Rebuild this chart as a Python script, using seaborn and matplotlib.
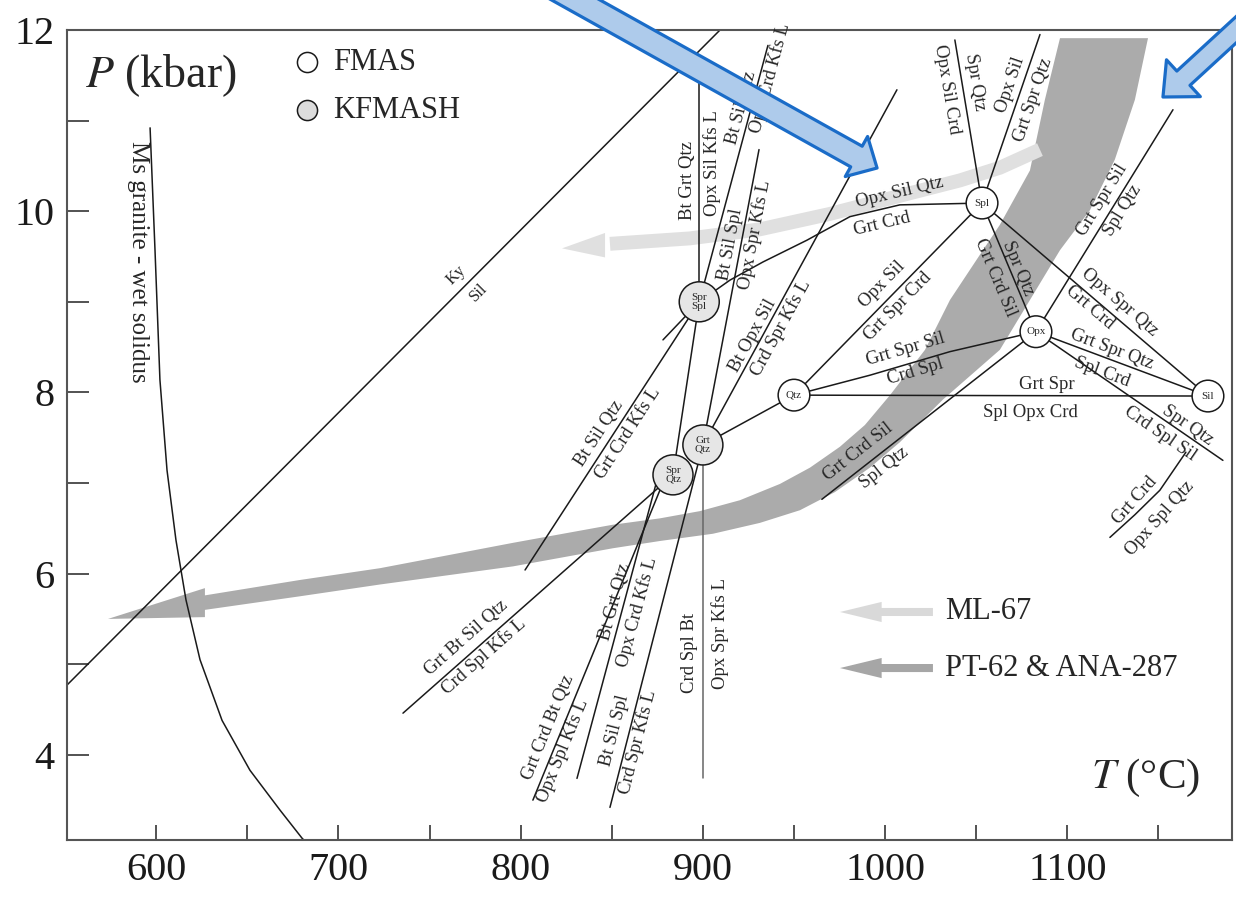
import numpy as np
import matplotlib
matplotlib.use("Agg")
import matplotlib.pyplot as plt
import seaborn as sns

# invariant points, T (°C) / P (kbar)
inv_T = [898.0, 883.6, 900.0, 950.0, 1053.2, 1082.8, 1177.2]
inv_P = [9.00, 7.09, 7.42, 7.97, 10.09, 8.67, 7.96]
inv_lab = ["Spr\nSpl", "Spr\nQtz", "Grt\nQtz", "Qtz", "Spl", "Opx", "Sil"]
inv_sys = ["KFMASH"] * 3 + ["FMAS"] * 4

# straight KFMASH reactions (T0, P0, T1, P1)
kfmash_lines = [
    (898.0, 9.00, 898.0, 11.64),
    (898.0, 9.00, 802.4, 6.04),
    (898.0, 9.00, 935.7, 11.83),
    (900.0, 7.42, 930.8, 10.68),
    (900.0, 7.42, 1006.5, 11.34),
    (898.0, 9.00, 883.6, 7.09),
    (883.6, 7.09, 735.4, 4.46),
    (876.4, 6.92, 806.7, 3.50),
    (874.8, 7.03, 830.9, 3.74),
    (900.0, 7.42, 849.0, 3.42),
    (900.0, 7.42, 900.0, 3.74),
    (900.0, 7.42, 950.0, 7.97),
]
# straight FMAS reactions
fmas_lines = [
    (950.0, 7.97, 1053.2, 10.09),
    (950.0, 7.97, 1177.2, 7.96),
    (1053.2, 10.09, 1038.3, 11.89),
    (1053.2, 10.09, 1085.0, 11.95),
    (1053.2, 10.09, 1082.8, 8.67),
    (1053.2, 10.09, 1177.2, 7.96),
    (1082.8, 8.67, 1177.2, 7.96),
    (1082.8, 8.67, 1185.4, 7.25),
    (1082.8, 8.67, 965.3, 6.82),
    (1082.8, 8.67, 1158.0, 11.12),
]
kysil = (551.0, 4.77, 909.4, 12.0)

# curved reactions
grtcrd_T = [1053.2, 1008.1, 980.7, 957.1, 933.0, 914.9, 898.0, 878.1]
grtcrd_P = [10.09, 10.07, 9.94, 9.68, 9.44, 9.24, 9.00, 8.58]
df_T = [950.0, 991.7, 1035.6, 1082.8]
df_P = [7.97, 8.19, 8.45, 8.67]
gc_T = [1165.1, 1150.8, 1137.1, 1123.4]
gc_P = [7.34, 6.92, 6.65, 6.40]
sol_T = [596.6, 599.3, 602.0, 605.9, 610.8, 616.3, 624.0, 636.1, 651.4, 667.9, 680.0, 684.0]
sol_P = [10.92, 9.57, 8.14, 7.14, 6.37, 5.71, 5.05, 4.38, 3.83, 3.39, 3.08, 3.0]

# P-T paths (edges of the dark band, centre of the light one)
band_up_T = [1096.0, 1087.7, 1079.5, 1063.0, 1053.7, 1035.6, 1021.9, 1002.7, 988.9, 975.2, 958.8, 942.3, 920.3, 898.4, 876.4, 850.6, 795.8, 722.8, 678.9, 626.7]
band_up_P = [11.91, 11.23, 10.45, 9.85, 9.57, 9.02, 8.47, 7.97, 7.64, 7.40, 7.17, 6.99, 6.81, 6.69, 6.61, 6.54, 6.34, 6.06, 5.93, 5.76]
band_lo_T = [1144.3, 1137.1, 1126.1, 1112.4, 1096.0, 1079.5, 1063.0, 1031.7, 1008.1, 991.7, 972.5, 953.3, 931.3, 905.5, 876.4, 850.6, 795.8, 722.8, 678.9, 626.7]
band_lo_P = [11.91, 11.23, 10.57, 10.01, 9.57, 9.02, 8.47, 7.92, 7.45, 7.17, 6.90, 6.70, 6.56, 6.44, 6.36, 6.28, 6.08, 5.88, 5.75, 5.60]
band_head_T = [626.7, 573.5, 626.7]
band_head_P = [5.84, 5.50, 5.52]
ml_T = [1085.0, 1063.0, 1041.1, 1008.1, 969.7, 931.3, 892.9, 849.0]
ml_P = [10.68, 10.48, 10.34, 10.17, 9.97, 9.80, 9.70, 9.64]
ml_head_T = [846.3, 822.7, 846.3]
ml_head_P = [9.76, 9.59, 9.49]

# reaction labels: text, T, P, line index
kfmash_labels = [
    ("Bt Grt Qtz", 891.3, 10.34, 0), ("Opx Sil Kfs L", 905.0, 10.53, 0),
    ("Bt Sil Qtz", 843.0, 7.55, 1), ("Grt Crd Kfs L", 858.9, 7.55, 1),
    ("Bt Sil Qtz", 920.9, 11.14, 2), ("Opx Crd Kfs L", 936.8, 11.47, 2),
    ("Bt Sil Spl", 914.9, 9.63, 3), ("Opx Spr Kfs L", 928.6, 9.74, 3),
    ("Bt Opx Sil", 927.5, 8.63, 4), ("Crd Spr Kfs L", 942.8, 8.71, 4),
    ("Grt Bt Sil Qtz", 770.0, 5.29, 6), ("Crd Spl Kfs L", 779.8, 5.09, 6),
    ("Grt Crd Bt Qtz", 815.0, 4.30, 7), ("Opx Spl Kfs L", 823.2, 4.05, 7),
    ("Bt Grt Qtz", 851.7, 5.69, 8), ("Opx Crd Kfs L", 863.8, 5.58, 8),
    ("Bt Sil Spl", 851.7, 4.27, 9), ("Crd Spr Kfs L", 864.4, 4.14, 9),
    ("Crd Spl Bt", 892.9, 5.13, 10), ("Opx Spr Kfs L", 909.4, 5.34, 10),
]
fmas_labels = [
    ("Opx Sil", 998.3, 9.19, 0), ("Grt Spr Crd", 1007.0, 8.95, 0),
    ("Grt Spr", 1088.8, 8.09, 1), ("Spl Opx Crd", 1079.5, 7.78, 1),
    ("Opx Sil Crd", 1034.0, 11.34, 2), ("Spr Qtz", 1049.3, 11.43, 2),
    ("Opx Sil", 1068.5, 11.39, 3), ("Grt Spr Qtz", 1081.1, 11.23, 3),
    ("Grt Crd Sil", 1060.3, 9.27, 4), ("Spr Qtz", 1072.9, 9.37, 4),
    ("Opx Spr Qtz", 1128.9, 8.99, 5), ("Grt Crd", 1112.4, 8.94, 5),
    ("Grt Spr Qtz", 1124.5, 8.48, 6), ("Spl Crd", 1119.0, 8.22, 6),
    ("Spr Qtz", 1166.2, 7.64, 7), ("Crd Spl Sil", 1150.8, 7.55, 7),
    ("Grt Crd Sil", 985.1, 7.34, 8), ("Spl Qtz", 999.4, 7.17, 8),
    ("Grt Spr Sil", 1119.0, 10.12, 9), ("Spl Qtz", 1130.5, 10.01, 9),
]

sns.set_theme(style="ticks")
plt.rcParams["font.family"] = ["Liberation Serif", "DejaVu Serif"]
plt.rcParams["mathtext.fontset"] = "stix"

fig = plt.figure(figsize=(12.36, 8.99), dpi=100)
ax = fig.add_axes([67 / 1236, 59 / 899, 1165 / 1236, 810 / 899])
ax.set_xlim(551, 1190.4)
ax.set_ylim(3.06, 12)


def angle(t0, p0, t1, p1):
    (x0, y0), (x1, y1) = ax.transData.transform([(t0, p0), (t1, p1)])
    a = np.degrees(np.arctan2(y1 - y0, x1 - x0))
    if a > 90:
        a -= 180
    if a <= -90:
        a += 180
    return a


def tag(text, t, p, rot, fs=13.5):
    ax.text(t, p, text, rotation=rot, rotation_mode="anchor", ha="center",
            va="center", fontsize=fs, zorder=4)


# P-T paths
ax.fill(np.r_[band_up_T, band_head_T, band_lo_T[::-1]],
        np.r_[band_up_P, band_head_P, band_lo_P[::-1]],
        color="#ababab", lw=0, zorder=1)
sns.lineplot(x=ml_T, y=ml_P, sort=False, estimator=None, color="#e0e0e0",
             lw=10, solid_capstyle="butt", ax=ax, zorder=1)
ax.fill(ml_head_T, ml_head_P, color="#e0e0e0", lw=0, zorder=1)

# reaction lines
for i, (t0, p0, t1, p1) in enumerate(kfmash_lines):
    col = "#666666" if i == 10 else "k"
    sns.lineplot(x=[t0, t1], y=[p0, p1], sort=False, estimator=None,
                 color=col, lw=1.1, ax=ax, zorder=2)
for t0, p0, t1, p1 in fmas_lines + [kysil]:
    sns.lineplot(x=[t0, t1], y=[p0, p1], sort=False, estimator=None,
                 color="k", lw=1.1, ax=ax, zorder=2)
for cx, cy in [(grtcrd_T, grtcrd_P), (df_T, df_P), (gc_T, gc_P), (sol_T, sol_P)]:
    sns.lineplot(x=cx, y=cy, sort=False, estimator=None, color="k", lw=1.1,
                 ax=ax, zorder=2)

# labels
for text, t, p, k in kfmash_labels:
    tag(text, t, p, angle(*kfmash_lines[k]))
for text, t, p, k in fmas_labels:
    tag(text, t, p, angle(*fmas_lines[k]))
a_gc = angle(grtcrd_T[2], grtcrd_P[2], grtcrd_T[1], grtcrd_P[1])
tag("Opx Sil Qtz", 1008.1, 10.21, a_gc)
tag("Grt Crd", 998.3, 9.86, a_gc)
a_df = angle(df_T[1], df_P[1], df_T[2], df_P[2])
tag("Grt Spr Sil", 1011.4, 8.47, a_df)
tag("Crd Spl", 1016.4, 8.23, a_df)
a_g = angle(gc_T[0], gc_P[0], gc_T[3], gc_P[3])
tag("Grt Crd", 1137.1, 6.81, a_g)
tag("Opx Spl Qtz", 1150.8, 6.61, a_g)
a_ky = angle(*kysil)
tag("Ky", 764.5, 9.30, a_ky, fs=12)
tag("Sil", 777.1, 9.10, a_ky, fs=12)
tag("Ms granite - wet solidus", 590.0, 9.44, -90, fs=18)

# invariant points
sns.scatterplot(x=inv_T, y=inv_P, hue=inv_sys, size=inv_sys,
                palette={"KFMASH": "#e6e6e6", "FMAS": "white"},
                sizes={"KFMASH": 830, "FMAS": 520}, edgecolor="k",
                linewidth=1.1, legend=False, ax=ax, zorder=5)
for t, p, lab in zip(inv_T, inv_P, inv_lab):
    ax.text(t, p, lab, ha="center", va="center", fontsize=8,
            linespacing=0.95, zorder=6)

# axes
ax.set_xticks([600, 700, 800, 900, 1000, 1100])
ax.set_xticks([650, 750, 850, 950, 1050, 1150], minor=True)
ax.set_yticks([4, 6, 8, 10, 12])
ax.set_yticks([5, 7, 9, 11], minor=True)
ax.tick_params(which="both", direction="in", width=1.3, color="#444444",
               labelsize=29, labelcolor="k")
ax.tick_params(axis="x", which="both", length=11, pad=9)
ax.tick_params(axis="y", which="both", length=16, pad=9)
for s in ax.spines.values():
    s.set_color("#555555")
    s.set_linewidth(1.5)
ax.set_xlabel("")
ax.set_ylabel("")

ax.text(0.0155, 0.944, r"$P$ (kbar)", transform=ax.transAxes, fontsize=33,
        ha="left", va="center")
ax.text(0.9725, 0.0765, r"$T$ (°C)", transform=ax.transAxes, fontsize=31,
        ha="right", va="center")

# system legend
ax.scatter([0.206], [0.960], s=210, transform=ax.transAxes, fc="white",
           ec="k", lw=1.1, zorder=6)
ax.scatter([0.206], [0.901], s=210, transform=ax.transAxes, fc="#dcdcdc",
           ec="k", lw=1.1, zorder=6)
ax.text(0.2283, 0.960, "FMAS", transform=ax.transAxes, fontsize=22, va="center")
ax.text(0.2283, 0.901, "KFMASH", transform=ax.transAxes, fontsize=22, va="center")

# path legend
for y, col, txt in [(0.2815, "#d9d9d9", "ML-67"),
                    (0.2123, "#a6a6a6", "PT-62 & ANA-287")]:
    ax.annotate("", xy=(0.6635, y), xytext=(0.7433, y), xycoords="axes fraction",
                arrowprops=dict(arrowstyle="simple,head_length=3.0,head_width=1.45,tail_width=0.58",
                                mutation_scale=10, fc=col, ec="none",
                                shrinkA=0, shrinkB=0))
    ax.text(0.7536, y, txt, transform=ax.transAxes, fontsize=22, va="center")

# blue pointer arrows
for tip, tail, style in [
    ((0.7096, 0.8131), (0.4369, 1.0222), "simple,head_length=1.7,head_width=3.3,tail_width=1.7"),
    ((0.9409, 0.8921), (1.021, 0.9933), "simple,head_length=2.0,head_width=3.6,tail_width=1.4"),
]:
    ax.annotate("", xy=tip, xytext=tail, xycoords="figure fraction",
                annotation_clip=False, zorder=20,
                arrowprops=dict(arrowstyle=style, mutation_scale=10,
                                fc="#aecbeb", ec="#1a6cc8", lw=2.3,
                                shrinkA=0, shrinkB=0))

fig.savefig("out.png", dpi=100)
